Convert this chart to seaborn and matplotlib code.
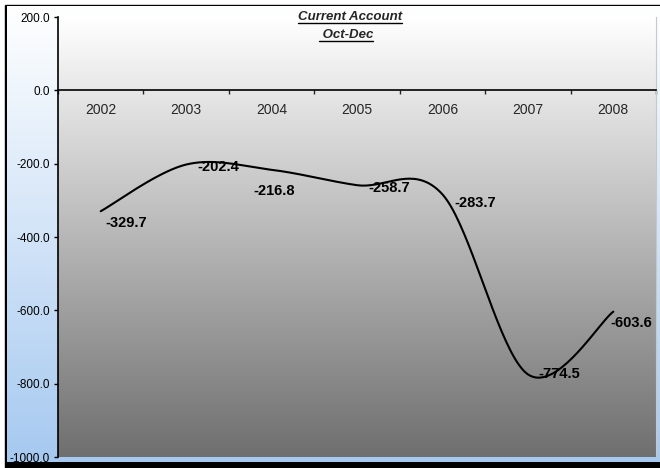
import numpy as np
import matplotlib
matplotlib.use("Agg")
import matplotlib.pyplot as plt
from matplotlib.colors import LinearSegmentedColormap
from matplotlib.patches import Rectangle
from matplotlib.lines import Line2D
import seaborn as sns

# data
years = ["2002", "2003", "2004", "2005", "2006", "2007", "2008"]
current_account = [-329.7, -202.4, -216.8, -258.7, -283.7, -774.5, -603.6]
# label nudges in pixels (dx, dy)
label_nudge = [(5, -12), (11, -2), (3, -21), (11, -3), (12, -9), (11, 0), (-3, -11)]
label_align = ["left", "left", "center", "left", "left", "left", "left"]

sns.set_style("ticks")
plt.rcParams["font.family"] = ["Liberation Sans", "DejaVu Sans"]


def smooth_curve(y, n=40):
    # excel style smoothed line: bezier segments, catmull-rom control points
    x = np.arange(len(y)) + 0.5
    y = np.asarray(y, float)
    px = np.concatenate([[x[0]], x, [x[-1]]])
    py = np.concatenate([[y[0]], y, [y[-1]]])
    xs, ys = [], []
    t = np.linspace(0, 1, n)
    for i in range(1, len(px) - 2):
        p0 = np.array([px[i], py[i]])
        p3 = np.array([px[i + 1], py[i + 1]])
        p1 = p0 + (p3 - np.array([px[i - 1], py[i - 1]])) / 6
        p2 = p3 - (np.array([px[i + 2], py[i + 2]]) - p0) / 6
        b = ((1 - t) ** 3)[:, None] * p0 + (3 * (1 - t) ** 2 * t)[:, None] * p1 \
            + (3 * (1 - t) * t ** 2)[:, None] * p2 + (t ** 3)[:, None] * p3
        xs.append(b[:, 0])
        ys.append(b[:, 1])
    return np.concatenate(xs), np.concatenate(ys)


fig = plt.figure(figsize=(6.6, 4.68), dpi=100)
fig.patch.set_facecolor("white")

# chart area: frame, shadow and blue gradient
bg = fig.add_axes([0, 0, 1, 1])
bg.set_xlim(0, 660)
bg.set_ylim(468, 0)
bg.axis("off")
bg.add_patch(Rectangle((5, 5), 660, 470, color="black", zorder=0))
grad = np.linspace(0, 1, 256)[:, None]
blue = LinearSegmentedColormap.from_list("b", ["#ffffff", "#a6c9f0"])
bg.imshow(grad, extent=[6.5, 660, 462, 6.8], cmap=blue, aspect="auto", zorder=1)
bg.set_xlim(0, 660)
bg.set_ylim(468, 0)

# plot area
ax = fig.add_axes([58 / 660, 11 / 468, 598 / 660, 440 / 468])
gray = LinearSegmentedColormap.from_list("g", ["#ffffff", "#6f6f6f"])
ax.imshow(grad, extent=[0, 7, -1000, 200], cmap=gray, aspect="auto", zorder=0)

cx, cy = smooth_curve(current_account)
sns.lineplot(x=cx, y=cy, sort=False, color="black", linewidth=1.5, ax=ax, zorder=3)

for i, v in enumerate(current_account):
    dx, dy = label_nudge[i]
    ax.annotate(f"{v:.1f}", (i + 0.5, v), xytext=(dx * 0.72, dy * 0.72),
                textcoords="offset points", ha=label_align[i], va="center",
                fontsize=10.5, fontweight="bold", color="black", zorder=4)

ax.set_xlim(0, 7)
ax.set_ylim(-1000, 200)
ax.set_yticks(np.arange(-1000, 201, 200))
ax.set_yticklabels([f"{v:.1f}" for v in np.arange(-1000, 201, 200)], fontsize=8.5)
ax.tick_params(axis="y", direction="out", length=3, width=1, pad=3, colors="black")

ax.set_xticks(np.arange(0, 8))
ax.set_xticklabels([])
ax.set_xticks(np.arange(len(years)) + 0.5, minor=True)
ax.set_xticklabels(years, minor=True, fontsize=8)
ax.tick_params(axis="x", which="major", direction="out", length=3, width=1)
ax.tick_params(axis="x", which="minor", length=0, pad=9)

ax.spines["bottom"].set_position(("data", 0))
ax.spines["top"].set_visible(False)
ax.spines["right"].set_color("#c8c8c8")
ax.spines["right"].set_linewidth(0.8)
for s in ["left", "bottom"]:
    ax.spines[s].set_color("black")
    ax.spines[s].set_linewidth(1.2)
ax.set_xlabel("")
ax.set_ylabel("")

# title, bold italic and underlined
t1 = fig.text(350 / 660, 1 - 17 / 468, "Current Account", ha="center", va="center",
              fontsize=9.5, fontweight="bold", fontstyle="italic")
t2 = fig.text(346 / 660, 1 - 35 / 468, " Oct-Dec", ha="center", va="center",
              fontsize=9.5, fontweight="bold", fontstyle="italic")
fig.canvas.draw()
r = fig.canvas.get_renderer()
for t in (t1, t2):
    bb = t.get_window_extent(r)
    yy = (bb.y0 + 0.5) / 468
    fig.add_artist(Line2D([bb.x0 / 660, bb.x1 / 660], [yy, yy], color="black",
                          linewidth=1, transform=fig.transFigure, zorder=10))

fig.savefig("out.png", dpi=100)
